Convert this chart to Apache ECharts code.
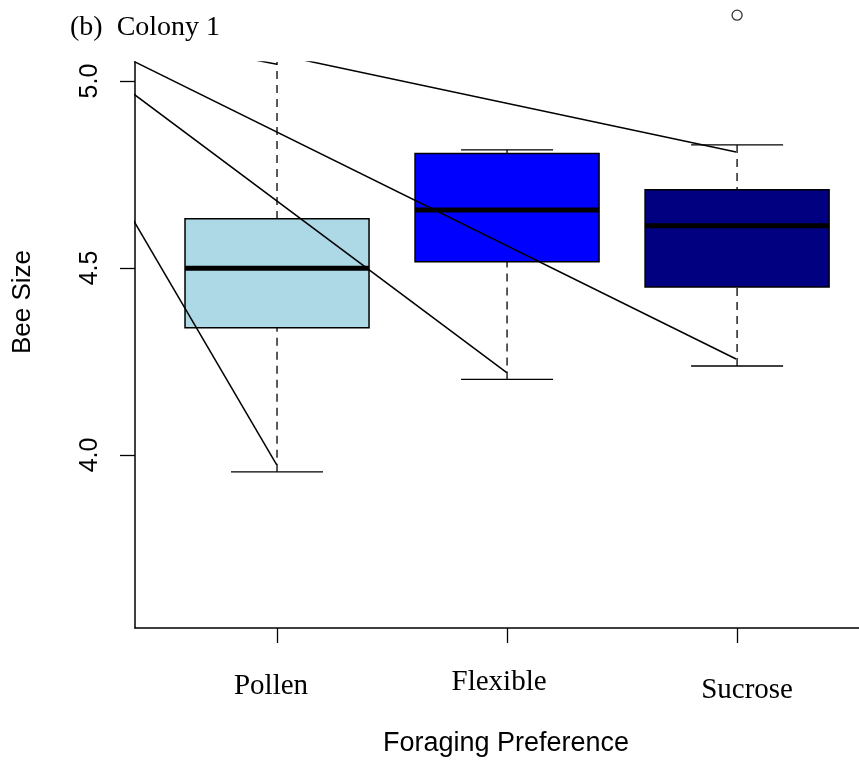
<!DOCTYPE html>
<html><head><meta charset="utf-8">
<script src="https://cdn.jsdelivr.net/npm/echarts@6/dist/echarts.min.js"></script>
<style>html,body{margin:0;padding:0;background:#fff}#chart{width:859px;height:764px}</style>
</head><body><div id="chart"></div>
<script>
// ---- data ----
const categories = ['Pollen', 'Flexible', 'Sucrose'];
const boxColors = ['#ADD8E6', '#0000FF', '#000080'];
const lowerWhisker = [3.955, 4.202, 4.238];
const q1 = [4.340, 4.517, 4.449];
const median = [4.499, 4.655, 4.613];
const q3 = [4.632, 4.806, 4.709];
const upperWhisker = [5.064, 4.816, 4.829];
const outliers = [[3, 5.176]];
const yTicks = [4.0, 4.5, 5.0];
const xTicks = [1, 2, 3];
// overlaid straight segments [start, end] in data coordinates
const segA = [[0.2957, 5.0773], [2.9957, 4.2567]];
const segB = [[0.2957, 5.0024], [1.9987, 4.2201]];
const segC = [[0.2957, 4.7115], [0.9987, 3.9733]];
const segD = [[0.7043, 5.1096], [2.9957, 4.8102]];
const segE = [[0.7957, 5.0690], [1.0000, 5.0447]];
const segments = [segA, segB, segC, segD, segE];

const boxData = categories.map((c, i) => [i + 1, lowerWhisker[i], q1[i], median[i], q3[i], upperWhisker[i]]);

const chart = echarts.init(document.getElementById('chart'), null, {renderer: 'canvas'});

function renderBox(params, api) {
  const x = api.value(0);
  const lw = api.value(1), a = api.value(2), m = api.value(3), b = api.value(4), uw = api.value(5);
  const halfBox = 0.4, halfCap = 0.2;
  const cx = api.coord([x, m])[0];
  const xl = api.coord([x - halfBox, m])[0];
  const xr = api.coord([x + halfBox, m])[0];
  const cl = api.coord([x - halfCap, m])[0];
  const cr = api.coord([x + halfCap, m])[0];
  const yLW = api.coord([x, lw])[1];
  const yQ1 = api.coord([x, a])[1];
  const yM = api.coord([x, m])[1];
  const yQ3 = api.coord([x, b])[1];
  const yUW = api.coord([x, uw])[1];
  const dash = {stroke: '#000', lineWidth: 1.3, lineDash: [8, 6]};
  const solid = {stroke: '#000', lineWidth: 1.3};
  return {
    type: 'group',
    children: [
      {type: 'line', shape: {x1: cx, y1: yLW, x2: cx, y2: yQ1}, style: dash},
      {type: 'line', shape: {x1: cx, y1: yUW, x2: cx, y2: yQ3}, style: dash},
      {type: 'line', shape: {x1: cl, y1: yLW, x2: cr, y2: yLW}, style: solid},
      {type: 'line', shape: {x1: cl, y1: yUW, x2: cr, y2: yUW}, style: solid},
      {type: 'rect', shape: {x: xl, y: yQ3, width: xr - xl, height: yQ1 - yQ3},
        style: {fill: boxColors[params.dataIndex], stroke: '#000', lineWidth: 1.5}},
      {type: 'line', shape: {x1: xl, y1: yM, x2: xr, y2: yM}, style: {stroke: '#000', lineWidth: 5}}
    ]
  };
}

const series = [{
  type: 'custom',
  renderItem: renderBox,
  data: boxData,
  clip: true,
  silent: true,
  z: 2
}];
segments.forEach(s => series.push({
  type: 'line', data: s, symbol: 'none', silent: true, clip: true, z: 3,
  lineStyle: {color: '#000', width: 1.5}
}));
series.push({
  type: 'scatter', data: outliers, symbol: 'circle', symbolSize: 10, clip: false, silent: true, z: 4,
  itemStyle: {color: 'rgba(0,0,0,0)', borderColor: '#000', borderWidth: 1.3}
});

const labelRich = {
  p: {fontFamily: 'Liberation Serif', fontSize: 29, color: '#000', padding: [4, 12, 0, 0]},
  f: {fontFamily: 'Liberation Serif', fontSize: 29, color: '#000', padding: [0, 16, 0, 0]},
  s: {fontFamily: 'Liberation Serif', fontSize: 29, color: '#000', padding: [8, 0, 0, 20]}
};
const richKeys = ['p', 'f', 's'];

chart.setOption({
  animation: false,
  backgroundColor: '#fff',
  grid: {left: 135, top: 62, right: 0, bottom: 136, containLabel: false},
  xAxis: {
    type: 'value', min: 0.3826, max: 3.530,
    splitLine: {show: false},
    axisLine: {show: true, onZero: false, lineStyle: {color: '#000', width: 1.5}},
    axisTick: {show: true, customValues: xTicks, length: 15, lineStyle: {color: '#000', width: 1.3}},
    axisLabel: {
      show: true, customValues: xTicks, margin: 40,
      formatter: v => { const i = Math.round(v) - 1; return '{' + richKeys[i] + '|' + categories[i] + '}'; },
      rich: labelRich
    }
  },
  yAxis: {
    type: 'value', min: 3.5374, max: 5.0508,
    splitLine: {show: false},
    axisLine: {show: true, lineStyle: {color: '#000', width: 1.5}},
    axisTick: {show: true, customValues: yTicks, length: 15, lineStyle: {color: '#000', width: 1.3}},
    axisLabel: {
      show: true, customValues: yTicks, rotate: 90, margin: 32,
      formatter: v => v.toFixed(1),
      fontFamily: 'Liberation Sans', fontSize: 25, color: '#000'
    }
  },
  graphic: [
    {type: 'text', x: 70, y: 28, style: {text: '(b)  Colony 1', font: '28px "Liberation Serif"', fill: '#000', align: 'left', verticalAlign: 'middle'}},
    {type: 'text', x: 23, y: 302, rotation: Math.PI / 2, style: {text: 'Bee Size', font: '26px "Liberation Sans"', fill: '#000', align: 'center', verticalAlign: 'middle'}},
    {type: 'text', x: 506, y: 744, style: {text: 'Foraging Preference', font: '27px "Liberation Sans"', fill: '#000', align: 'center', verticalAlign: 'middle'}}
  ],
  series: series
});
</script>
</body></html>
